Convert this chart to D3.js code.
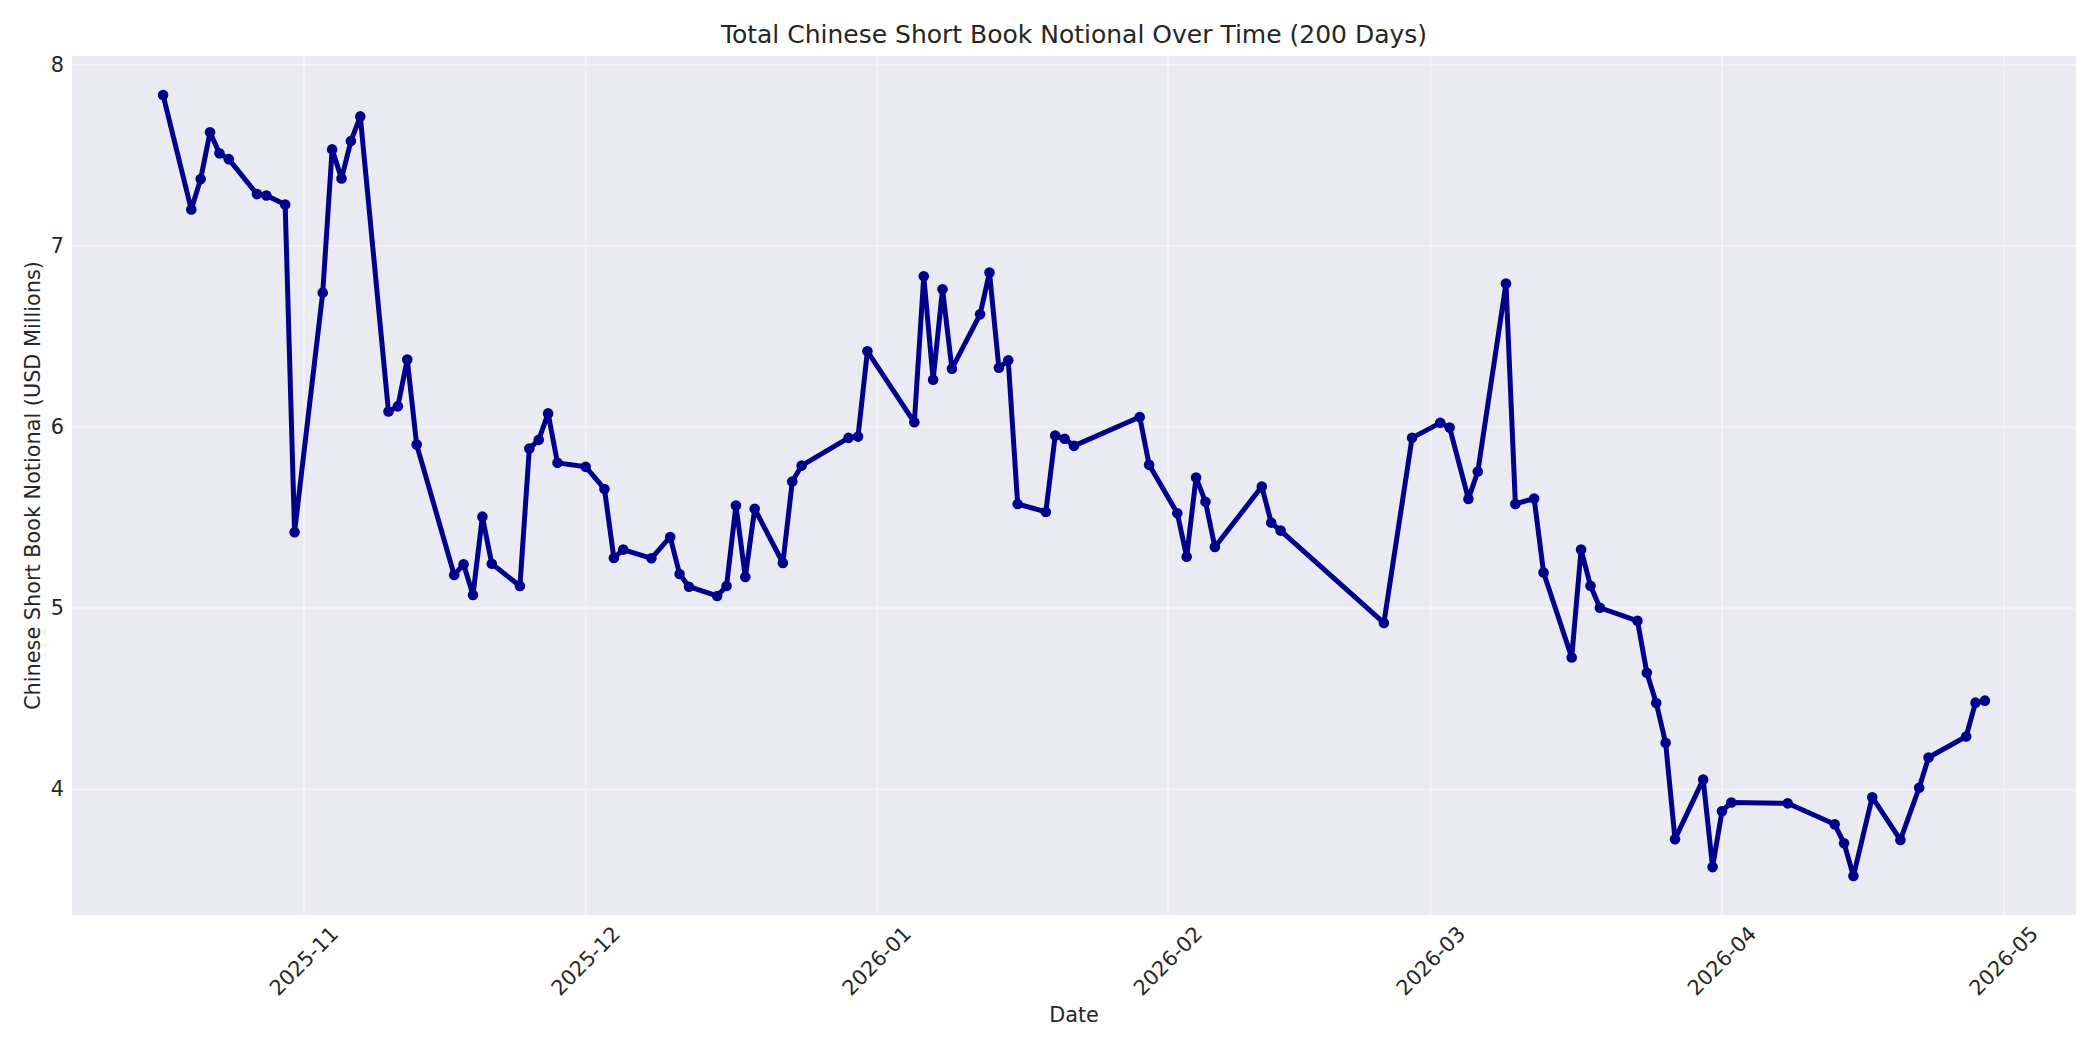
<!DOCTYPE html>
<html>
<head>
<meta charset="utf-8">
<script src="https://cdn.jsdelivr.net/npm/d3@7"></script>
<style>
  html, body { margin: 0; padding: 0; background: #ffffff; }
  svg { display: block; font-family: "DejaVu Sans", sans-serif; }
</style>
</head>
<body>
<svg id="chart" width="2100" height="1050"></svg>
<script>
// ---- Data ----
const dates = [
  "2025-10-17","2025-10-20","2025-10-21","2025-10-22","2025-10-23","2025-10-24","2025-10-27","2025-10-28","2025-10-30","2025-10-31",
  "2025-11-03","2025-11-04","2025-11-05","2025-11-06","2025-11-07","2025-11-10","2025-11-11","2025-11-12","2025-11-13","2025-11-17",
  "2025-11-18","2025-11-19","2025-11-20","2025-11-21","2025-11-24","2025-11-25","2025-11-26","2025-11-27","2025-11-28","2025-12-01",
  "2025-12-03","2025-12-04","2025-12-05","2025-12-08","2025-12-10","2025-12-11","2025-12-12","2025-12-15","2025-12-16","2025-12-17",
  "2025-12-18","2025-12-19","2025-12-22","2025-12-23","2025-12-24","2025-12-29","2025-12-30","2025-12-31","2026-01-05","2026-01-06",
  "2026-01-07","2026-01-08","2026-01-09","2026-01-12","2026-01-13","2026-01-14","2026-01-15","2026-01-16","2026-01-19","2026-01-20",
  "2026-01-21","2026-01-22","2026-01-29","2026-01-30","2026-02-02","2026-02-03","2026-02-04","2026-02-05","2026-02-06","2026-02-11",
  "2026-02-12","2026-02-13","2026-02-24","2026-02-27","2026-03-02","2026-03-03","2026-03-05","2026-03-06","2026-03-09","2026-03-10",
  "2026-03-12","2026-03-13","2026-03-16","2026-03-17","2026-03-18","2026-03-19","2026-03-23","2026-03-24","2026-03-25","2026-03-26",
  "2026-03-27","2026-03-30","2026-03-31","2026-04-01","2026-04-02","2026-04-08","2026-04-13","2026-04-14","2026-04-15","2026-04-17",
  "2026-04-20","2026-04-22","2026-04-23","2026-04-27","2026-04-28","2026-04-29"
];
const notional = [
  7.834,7.202,7.370,7.628,7.512,7.480,7.287,7.279,7.229,5.420,
  6.743,7.534,7.373,7.580,7.716,6.087,6.115,6.374,5.904,5.184,
  5.243,5.073,5.506,5.246,5.123,5.882,5.930,6.076,5.803,5.781,
  5.659,5.278,5.324,5.276,5.394,5.189,5.119,5.068,5.123,5.567,
  5.173,5.549,5.250,5.700,5.788,5.941,5.948,6.419,6.027,6.833,
  6.262,6.761,6.323,6.623,6.854,6.328,6.369,5.576,5.532,5.954,
  5.936,5.897,6.056,5.792,5.525,5.285,5.722,5.588,5.338,5.672,
  5.473,5.429,4.919,5.941,6.024,5.998,5.604,5.755,6.793,5.576,
  5.606,5.198,4.728,5.324,5.124,5.003,4.931,4.644,4.477,4.257,
  3.725,4.055,3.571,3.879,3.928,3.923,3.807,3.703,3.522,3.957,
  3.721,4.009,4.176,4.292,4.479,4.490
];
const yTicks = [4, 5, 6, 7, 8];
const titleText = "Total Chinese Short Book Notional Over Time (200 Days)";
const xLabelText = "Date";
const yLabelText = "Chinese Short Book Notional (USD Millions)";

// ---- Layout ----
const W = 2100, H = 1050;
const plot = { left: 72, right: 2076, top: 56, bottom: 915 };
const textColor = "#262626";
const lineColor = "#00008B";

const parse = d3.utcParse("%Y-%m-%d");
const data = dates.map((d, i) => ({ date: parse(d), value: notional[i] }));

// matplotlib-style 5% margins
const tExt = d3.extent(data, d => +d.date);
const tPad = (tExt[1] - tExt[0]) * 0.05;
const vExt = d3.extent(data, d => d.value);
const vPad = (vExt[1] - vExt[0]) * 0.05;

const x = d3.scaleUtc()
  .domain([new Date(tExt[0] - tPad), new Date(tExt[1] + tPad)])
  .range([plot.left, plot.right]);
const y = d3.scaleLinear()
  .domain([vExt[0] - vPad, vExt[1] + vPad])
  .range([plot.bottom, plot.top]);

const svg = d3.select("#chart");

svg.append("rect").attr("x", 0).attr("y", 0).attr("width", W).attr("height", H).attr("fill", "#ffffff");

// plot background
svg.append("rect")
  .attr("x", plot.left).attr("y", plot.top)
  .attr("width", plot.right - plot.left).attr("height", plot.bottom - plot.top)
  .attr("fill", "#EAEAF2");

const xTicks = x.ticks(d3.utcMonth.every(1));
const fmt = d3.utcFormat("%Y-%m");

// grid
const grid = svg.append("g").attr("stroke", "#ffffff").attr("stroke-opacity", 0.4).attr("stroke-width", 2);
grid.selectAll("line.v").data(xTicks).join("line")
  .attr("class", "v")
  .attr("x1", d => x(d)).attr("x2", d => x(d))
  .attr("y1", plot.top).attr("y2", plot.bottom);
grid.selectAll("line.h").data(yTicks).join("line")
  .attr("class", "h")
  .attr("x1", plot.left).attr("x2", plot.right)
  .attr("y1", d => y(d)).attr("y2", d => y(d));

// line
const line = d3.line().x(d => x(d.date)).y(d => y(d.value));
svg.append("path")
  .datum(data)
  .attr("fill", "none")
  .attr("stroke", lineColor)
  .attr("stroke-width", 5)
  .attr("stroke-linejoin", "round")
  .attr("stroke-linecap", "round")
  .attr("d", line);

// markers
svg.append("g").selectAll("circle").data(data).join("circle")
  .attr("cx", d => x(d.date))
  .attr("cy", d => y(d.value))
  .attr("r", 5.3)
  .attr("fill", lineColor);

// y tick labels
svg.append("g").selectAll("text").data(yTicks).join("text")
  .attr("x", plot.left - 8)
  .attr("y", d => y(d))
  .attr("text-anchor", "end")
  .attr("dominant-baseline", "central")
  .attr("font-size", 20.8)
  .attr("fill", textColor)
  .text(d => d3.format("d")(d));

// x tick labels (rotated 45°)
svg.append("g").selectAll("text").data(xTicks).join("text")
  .attr("transform", d => `translate(${x(d)},${plot.bottom + 46}) rotate(-45)`)
  .attr("text-anchor", "middle")
  .attr("dominant-baseline", "central")
  .attr("font-size", 20.8)
  .attr("fill", textColor)
  .text(d => fmt(d));

// title
svg.append("text")
  .attr("x", (plot.left + plot.right) / 2)
  .attr("y", 43)
  .attr("text-anchor", "middle")
  .attr("font-size", 25)
  .attr("fill", textColor)
  .text(titleText);

// x label
svg.append("text")
  .attr("x", (plot.left + plot.right) / 2)
  .attr("y", 1022)
  .attr("text-anchor", "middle")
  .attr("font-size", 20.8)
  .attr("fill", textColor)
  .text(xLabelText);

// y label
svg.append("text")
  .attr("transform", `translate(39.5,${(plot.top + plot.bottom) / 2}) rotate(-90)`)
  .attr("text-anchor", "middle")
  .attr("font-size", 20.8)
  .attr("fill", textColor)
  .text(yLabelText);
</script>
</body>
</html>
